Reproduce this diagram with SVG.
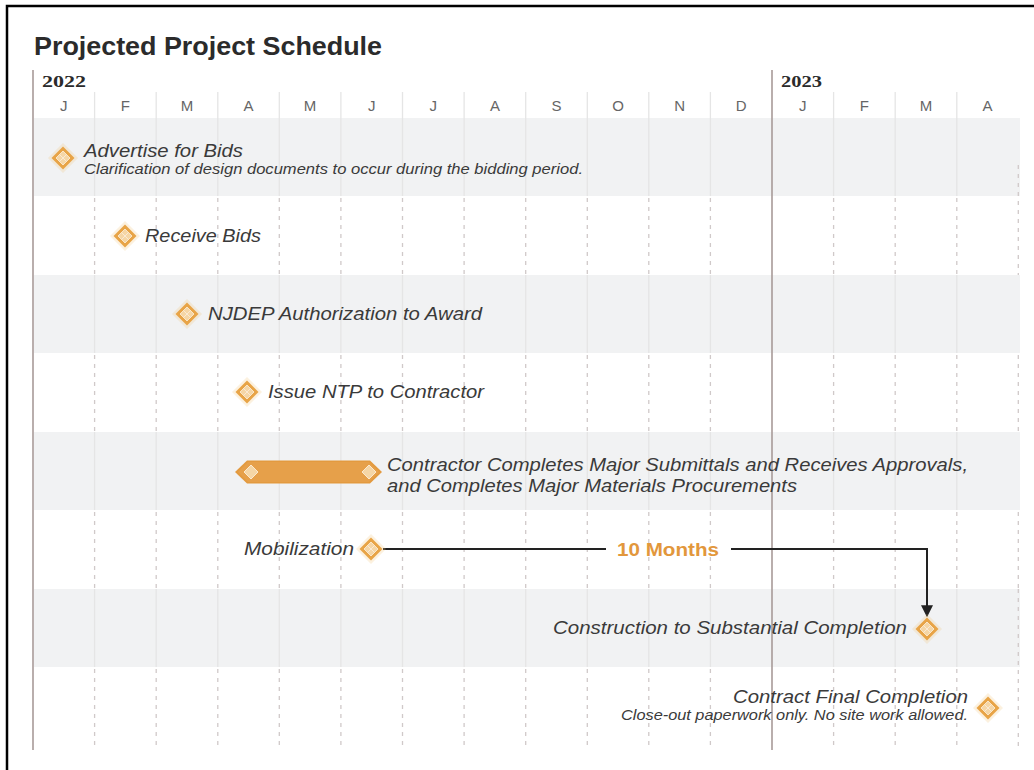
<svg xmlns="http://www.w3.org/2000/svg" width="1034" height="770" viewBox="0 0 1034 770">
  <style>
    .title { font-family: "Liberation Sans", Arial, sans-serif; font-weight: bold; font-size: 25px; fill: #2b2b2b; }
    .year { font-family: "Liberation Serif", "DejaVu Serif", serif; font-weight: bold; font-size: 17px; fill: #2b2b2b; }
    .month { font-family: "Liberation Sans", Arial, sans-serif; font-size: 15px; fill: #666; text-anchor: middle; }
    .lbl { font-family: "Liberation Sans", Arial, sans-serif; font-style: italic; font-size: 18px; fill: #3a3a3a; }
    .sub { font-family: "Liberation Sans", Arial, sans-serif; font-style: italic; font-size: 14px; fill: #3a3a3a; }
    .dur { font-family: "Liberation Sans", Arial, sans-serif; font-weight: bold; font-size: 18px; fill: #e2973c; text-anchor: middle; }
    .band { fill: #f1f2f3; }
    .grid-dash { stroke: #d0c9c9; stroke-width: 1.3; stroke-dasharray: 4 5; }
    .grid-soft { stroke: #e5e5e5; stroke-width: 1.3; }
    .year-line { stroke: #a89a98; stroke-width: 1.6; }
    .link { fill: none; stroke: #222; stroke-width: 2; }
  </style>
  <defs>
    <g id="dia">
      <path d="M0,-15 L15,0 L0,15 L-15,0Z" fill="#f3c77e" opacity="0.25"/>
      <path d="M0,-11.5 L11.5,0 L0,11.5 L-11.5,0Z" fill="#e8a447"/>
      <path d="M0,-7 L7,0 L0,7 L-7,0Z" fill="#f5d6a6" stroke="#f9e6c8" stroke-width="1"/>
      <path d="M-3.5,-3.5 L3.5,3.5 M3.5,-3.5 L-3.5,3.5" stroke="#fbeedd" stroke-width="0.8"/>
    </g>
    <marker id="arrow" viewBox="0 0 10 10" refX="9" refY="5" markerWidth="6" markerHeight="6" orient="auto">
      <path d="M0,0 L10,5 L0,10 Z" fill="#222"/>
    </marker>
  </defs>

  <rect width="1034" height="770" fill="#fff"/>
  <!-- frame -->
  <rect x="7" y="6" width="1040" height="790" fill="none" stroke="#000" stroke-width="2.5"/>

  <!-- title -->
  <text class="title" x="34" y="55" textLength="348" lengthAdjust="spacingAndGlyphs">Projected Project Schedule</text>

  <!-- row bands -->
  <g id="bands">
    <rect class="band" x="34" y="118" width="986" height="78"/>
    <rect class="band" x="34" y="275" width="986" height="78"/>
    <rect class="band" x="34" y="432" width="986" height="78"/>
    <rect class="band" x="34" y="589" width="986" height="78"/>
  </g>

  <!-- month grid -->
  <g id="grid">
    <g class="grid-soft">
      <path d="M94.6,92V196 M156.2,92V196 M217.8,92V196 M279.3,92V196 M340.9,92V196 M402.5,92V196 M464.1,92V196 M525.7,92V196 M587.3,92V196 M648.8,92V196 M710.4,92V196 M833.6,92V196 M895.2,92V196 M956.8,92V196"/>
      <path d="M94.6,275V353 M156.2,275V353 M217.8,275V353 M279.3,275V353 M340.9,275V353 M402.5,275V353 M464.1,275V353 M525.7,275V353 M587.3,275V353 M648.8,275V353 M710.4,275V353 M833.6,275V353 M895.2,275V353 M956.8,275V353"/>
      <path d="M94.6,432V510 M156.2,432V510 M217.8,432V510 M279.3,432V510 M340.9,432V510 M402.5,432V510 M464.1,432V510 M525.7,432V510 M587.3,432V510 M648.8,432V510 M710.4,432V510 M833.6,432V510 M895.2,432V510 M956.8,432V510"/>
      <path d="M94.6,589V667 M156.2,589V667 M217.8,589V667 M279.3,589V667 M340.9,589V667 M402.5,589V667 M464.1,589V667 M525.7,589V667 M587.3,589V667 M648.8,589V667 M710.4,589V667 M833.6,589V667 M895.2,589V667 M956.8,589V667"/>
    </g>
    <g class="grid-dash">
      <path d="M94.6,198V275 M156.2,198V275 M217.8,198V275 M279.3,198V275 M340.9,198V275 M402.5,198V275 M464.1,198V275 M525.7,198V275 M587.3,198V275 M648.8,198V275 M710.4,198V275 M833.6,198V275 M895.2,198V275 M956.8,198V275 M1018.3,165V275"/>
      <path d="M94.6,355V432 M156.2,355V432 M217.8,355V432 M279.3,355V432 M340.9,355V432 M402.5,355V432 M464.1,355V432 M525.7,355V432 M587.3,355V432 M648.8,355V432 M710.4,355V432 M833.6,355V432 M895.2,355V432 M956.8,355V432 M1018.3,355V432"/>
      <path d="M94.6,512V589 M156.2,512V589 M217.8,512V589 M279.3,512V589 M340.9,512V589 M402.5,512V589 M464.1,512V589 M525.7,512V589 M587.3,512V589 M648.8,512V589 M710.4,512V589 M833.6,512V589 M895.2,512V589 M956.8,512V589 M1018.3,512V589"/>
      <path d="M94.6,669V750 M156.2,669V750 M217.8,669V750 M279.3,669V750 M340.9,669V750 M402.5,669V750 M464.1,669V750 M525.7,669V750 M587.3,669V750 M648.8,669V750 M710.4,669V750 M833.6,669V750 M895.2,669V750 M956.8,669V750 M1018.3,589V750"/>
    </g>
    <line class="year-line" x1="33" y1="70" x2="33" y2="750"/>
    <line class="year-line" x1="772" y1="70" x2="772" y2="750"/>
  </g>

  <!-- timeline header -->
  <g id="header">
    <text class="year" x="42" y="87" textLength="44" lengthAdjust="spacingAndGlyphs">2022</text>
    <text class="year" x="781" y="87" textLength="41" lengthAdjust="spacingAndGlyphs">2023</text>
    <text class="month" x="63.8" y="111">J</text>
    <text class="month" x="125.4" y="111">F</text>
    <text class="month" x="187" y="111">M</text>
    <text class="month" x="248.5" y="111">A</text>
    <text class="month" x="310.1" y="111">M</text>
    <text class="month" x="371.7" y="111">J</text>
    <text class="month" x="433.3" y="111">J</text>
    <text class="month" x="494.9" y="111">A</text>
    <text class="month" x="556.5" y="111">S</text>
    <text class="month" x="618.1" y="111">O</text>
    <text class="month" x="679.7" y="111">N</text>
    <text class="month" x="741.2" y="111">D</text>
    <text class="month" x="802.8" y="111">J</text>
    <text class="month" x="864.4" y="111">F</text>
    <text class="month" x="926" y="111">M</text>
    <text class="month" x="987.6" y="111">A</text>
  </g>

  <!-- connectors -->
  <g id="connectors">
    <path class="link" d="M383,549 H606"/>
    <path class="link" d="M731,549 H927 V616" marker-end="url(#arrow)"/>
  </g>

  <!-- milestones -->
  <g id="advertise">
    <use href="#dia" x="63" y="158"/>
    <text class="lbl" x="84" y="157" textLength="159" lengthAdjust="spacingAndGlyphs">Advertise for Bids</text>
    <text class="sub" x="84" y="174" textLength="499" lengthAdjust="spacingAndGlyphs">Clarification of design documents to occur during the bidding period.</text>
  </g>
  <g id="receive-bids">
    <use href="#dia" x="125" y="236"/>
    <text class="lbl" x="145" y="242" textLength="116" lengthAdjust="spacingAndGlyphs">Receive Bids</text>
  </g>
  <g id="njdep">
    <use href="#dia" x="187" y="314"/>
    <text class="lbl" x="208" y="320" textLength="274" lengthAdjust="spacingAndGlyphs">NJDEP Authorization to Award</text>
  </g>
  <g id="issue-ntp">
    <use href="#dia" x="247" y="392"/>
    <text class="lbl" x="268" y="398" textLength="216" lengthAdjust="spacingAndGlyphs">Issue NTP to Contractor</text>
  </g>
  <g id="submittals">
    <path d="M235,472 L247,460.5 H370 L382,472 L370,483.5 H247Z" fill="#e39a3f"/>
    <path d="M238,472 L248,462 H369 L379,472 L369,482 H248Z" fill="#e6a04a"/>
    <path d="M251,465 L258,472 L251,479 L244,472Z" fill="#f5d6a6" stroke="#fbe9cf" stroke-width="1"/>
    <path d="M369,465 L376,472 L369,479 L362,472Z" fill="#f5d6a6" stroke="#fbe9cf" stroke-width="1"/>
    <text class="lbl" x="387" y="471" textLength="581" lengthAdjust="spacingAndGlyphs">Contractor Completes Major Submittals and Receives Approvals,</text>
    <text class="lbl" x="387" y="492" textLength="410" lengthAdjust="spacingAndGlyphs">and Completes Major Materials Procurements</text>
  </g>
  <g id="mobilization">
    <use href="#dia" x="371" y="549"/>
    <text class="lbl" x="354" y="555" text-anchor="end" textLength="110" lengthAdjust="spacingAndGlyphs">Mobilization</text>
    <text class="dur" x="668" y="556" textLength="102" lengthAdjust="spacingAndGlyphs">10 Months</text>
  </g>
  <g id="construction">
    <use href="#dia" x="927" y="629"/>
    <text class="lbl" x="907" y="634" text-anchor="end" textLength="354" lengthAdjust="spacingAndGlyphs">Construction to Substantial Completion</text>
  </g>
  <g id="final-completion">
    <use href="#dia" x="988" y="708"/>
    <text class="lbl" x="968" y="703" text-anchor="end" textLength="235" lengthAdjust="spacingAndGlyphs">Contract Final Completion</text>
    <text class="sub" x="968" y="720" text-anchor="end" textLength="347" lengthAdjust="spacingAndGlyphs">Close-out paperwork only. No site work allowed.</text>
  </g>
</svg>
